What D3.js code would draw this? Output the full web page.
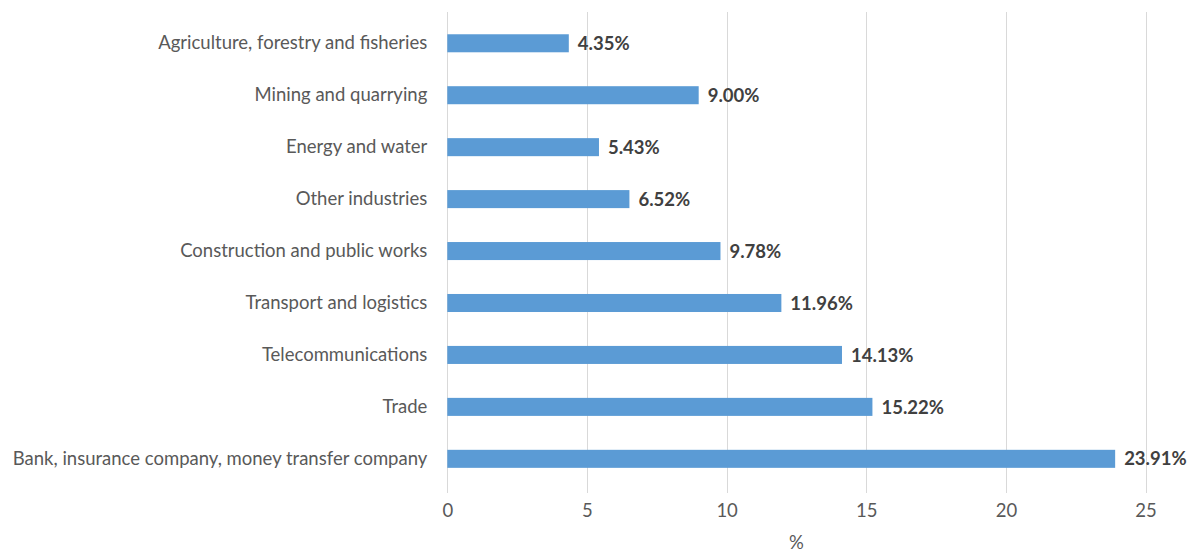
<!DOCTYPE html>
<html>
<head>
<meta charset="utf-8">
<script src="https://cdn.jsdelivr.net/npm/d3@7"></script>
<style>
  html, body { margin: 0; padding: 0; background: #ffffff; }
  svg { display: block; }
  text { font-family: "Lato", "Open Sans", sans-serif; }
</style>
</head>
<body>
<script>
// Sector names, listed top to bottom
const sectors = [
  "Agriculture, forestry and fisheries",
  "Mining and quarrying",
  "Energy and water",
  "Other industries",
  "Construction and public works",
  "Transport and logistics",
  "Telecommunications",
  "Trade",
  "Bank, insurance company, money transfer company"
];

// Share of each sector, in percent
const shares = [4.35, 9.00, 5.43, 6.52, 9.78, 11.96, 14.13, 15.22, 23.91];

// Horizontal axis ticks
const xTicks = [0, 5, 10, 15, 20, 25];
const xAxisTitle = "%";

const W = 1191, H = 552;

const svg = d3.select("body").append("svg")
  .attr("width", W)
  .attr("height", H);

const x = d3.scaleLinear().domain([0, 25]).range([447.3, 1145.6]);

const y = d3.scaleBand()
  .domain(sectors)
  .range([17.3, 484.8])
  .paddingInner(0.653)
  .paddingOuter(0.3265);

// Vertical gridlines
svg.append("g")
  .selectAll("line")
  .data(xTicks)
  .join("line")
  .attr("x1", d => Math.round(x(d)) + 0.5)
  .attr("x2", d => Math.round(x(d)) + 0.5)
  .attr("y1", 12)
  .attr("y2", 493)
  .attr("stroke", "#d9d9d9")
  .attr("stroke-width", 1);

// Bars
svg.append("g")
  .selectAll("rect")
  .data(sectors)
  .join("rect")
  .attr("x", x(0))
  .attr("y", d => y(d))
  .attr("width", (d, i) => x(shares[i]) - x(0))
  .attr("height", y.bandwidth())
  .attr("fill", "#5b9bd5");

// Value labels at bar ends
svg.append("g")
  .selectAll("text")
  .data(sectors)
  .join("text")
  .attr("x", (d, i) => x(shares[i]) + 9)
  .attr("y", d => y(d) + y.bandwidth() / 2)
  .attr("dy", "0.36em")
  .attr("font-size", 18.5)
  .attr("font-weight", 700)
  .attr("fill", "#404040")
  .text((d, i) => shares[i].toFixed(2) + "%");

// Category axis labels
const yAxis = d3.axisLeft(y).tickSize(0).tickPadding(20);
const gy = svg.append("g")
  .attr("transform", `translate(${x(0)},0)`)
  .call(yAxis);
gy.select(".domain").remove();
gy.selectAll("text")
  .attr("font-family", "Lato, 'Open Sans', sans-serif")
  .attr("font-size", 18.5)
  .attr("fill", "#595959");

// Value axis tick labels
const xAxis = d3.axisBottom(x).tickValues(xTicks).tickSize(0).tickPadding(11);
const gx = svg.append("g")
  .attr("transform", "translate(0,493)")
  .call(xAxis);
gx.select(".domain").remove();
gx.selectAll("text")
  .attr("font-family", "Lato, 'Open Sans', sans-serif")
  .attr("font-size", 18.5)
  .attr("fill", "#595959");

// Value axis title
svg.append("text")
  .attr("x", (x(0) + x(25)) / 2)
  .attr("y", 549)
  .attr("text-anchor", "middle")
  .attr("font-size", 18.5)
  .attr("fill", "#595959")
  .text(xAxisTitle);
</script>
</body>
</html>
